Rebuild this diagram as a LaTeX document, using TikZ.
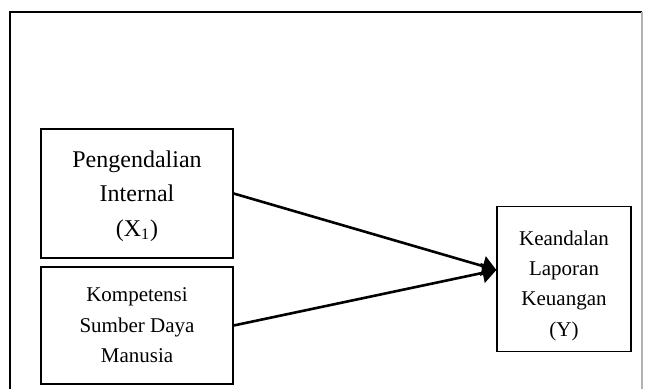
\documentclass[tikz,border=0pt]{standalone}
\usepackage{fontspec}
\setmainfont{Liberation Serif}
\usetikzlibrary{arrows.meta}
\tikzset{
  varbox/.style={draw, line width=0.65pt, align=center, inner sep=0pt},
  bigtext/.style={font=\fontsize{12}{17.2}\selectfont},
  smalltext/.style={font=\fontsize{10.5}{15.2}\selectfont},
  path/.style={line width=1.3pt, -{Triangle[length=7pt,width=10pt]}}
}
\begin{document}
\begin{tikzpicture}[x=0.5pt,y=-0.5pt]
\useasboundingbox (0,0) rectangle (647,389);
\draw[line width=0.65pt] (10,400) -- (10,12) -- (642,12);
\draw[line width=0.65pt,gray!60] (642,12) -- (642,400);
\node[varbox,bigtext,minimum width=96pt,minimum height=64.5pt] (x1) at (137,193.5) {\rule{0pt}{11pt}Pengendalian\\Internal\\(X\textsubscript{1})};
\node[varbox,smalltext,minimum width=96pt,minimum height=58.5pt] (x2) at (137,325.5) {Kompetensi\\Sumber Daya\\Manusia};
\node[varbox,smalltext,minimum width=67pt,minimum height=72.5pt] (y) at (564,279) {\rule{0pt}{14pt}Keandalan\\Laporan\\Keuangan\\(Y)};
\coordinate (tip) at ([yshift=4.5pt]y.west);
\draw[path] (x1.east) -- (tip);
\draw[path] (x2.east) -- (tip);
\end{tikzpicture}
\end{document}
